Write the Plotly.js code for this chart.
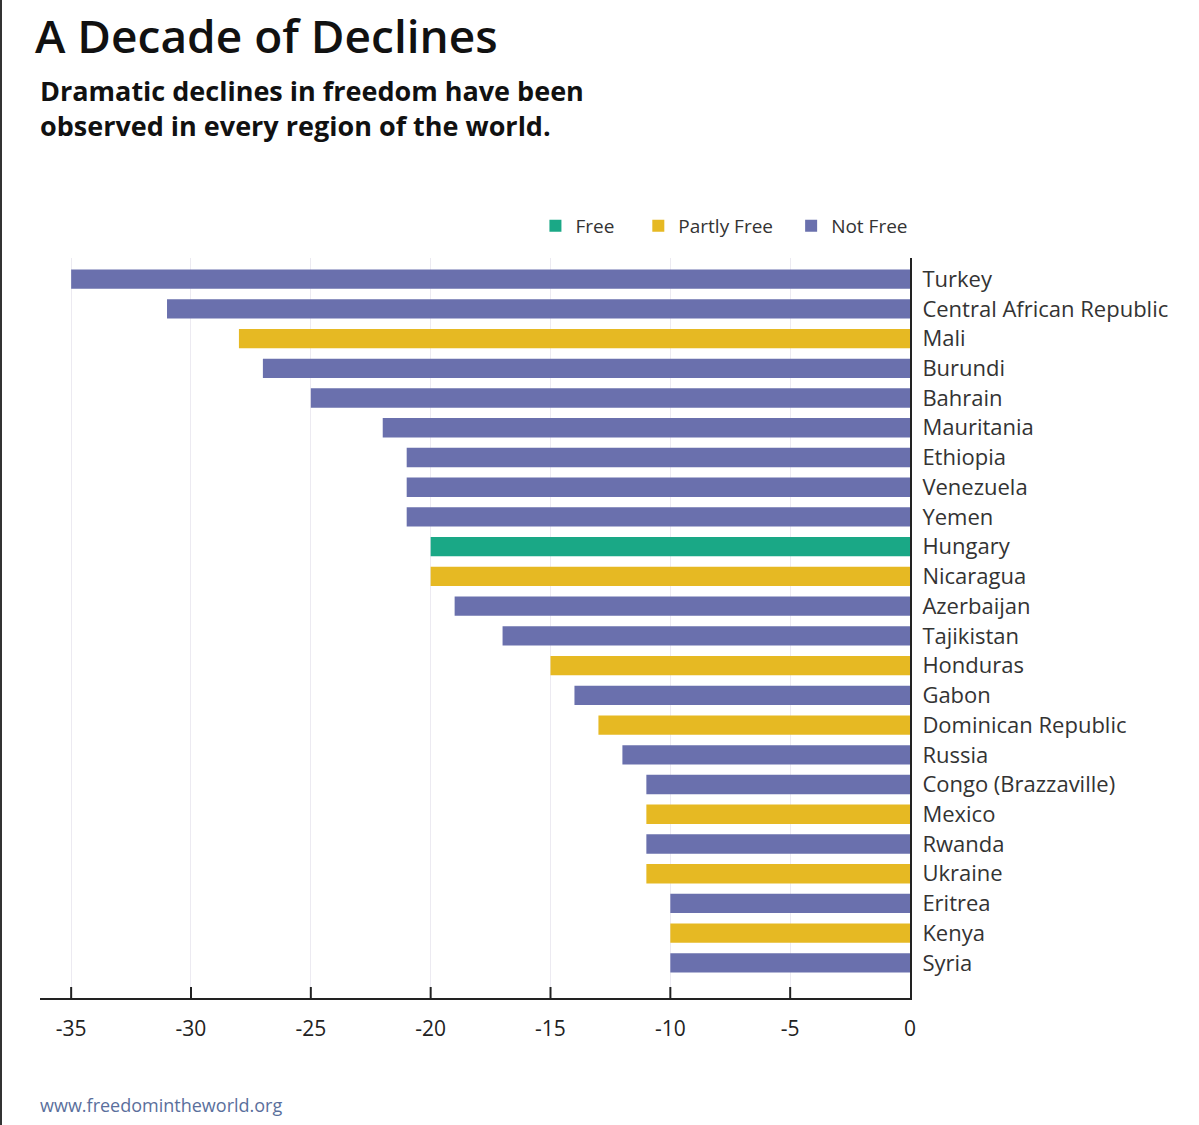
<!DOCTYPE html>
<html>
<head>
<meta charset="utf-8">
<script src="https://cdn.plot.ly/plotly-3.0.1.min.js"></script>
<style>
  html, body { margin: 0; padding: 0; background: #fff; }
  #chart { width: 1199px; height: 1125px; box-sizing: border-box; border-left: 2px solid #333; }
</style>
</head>
<body>
<div id="chart"></div>
<script>
const countries = ["Turkey", "Central African Republic", "Mali", "Burundi", "Bahrain", "Mauritania",
  "Ethiopia", "Venezuela", "Yemen", "Hungary", "Nicaragua", "Azerbaijan", "Tajikistan", "Honduras",
  "Gabon", "Dominican Republic", "Russia", "Congo (Brazzaville)", "Mexico", "Rwanda", "Ukraine",
  "Eritrea", "Kenya", "Syria"];
const declines = [-35, -31, -28, -27, -25, -22, -21, -21, -21, -20, -20, -19, -17, -15,
  -14, -13, -12, -11, -11, -11, -11, -10, -10, -10];
const status = ["Not Free", "Not Free", "Partly Free", "Not Free", "Not Free", "Not Free",
  "Not Free", "Not Free", "Not Free", "Free", "Partly Free", "Not Free", "Not Free", "Partly Free",
  "Not Free", "Partly Free", "Not Free", "Not Free", "Partly Free", "Not Free", "Partly Free",
  "Not Free", "Partly Free", "Not Free"];
const statusNames = ["Free", "Partly Free", "Not Free"];
const statusColors = ["#1aa886", "#e6b923", "#6a70ad"];
const xTicks = [-35, -30, -25, -20, -15, -10, -5, 0];

const FONT = "Open Sans, Lato, sans-serif";
const legendIds = ["legend", "legend2", "legend3"];
const legendLeft = [534, 637, 790];

const traces = statusNames.map((s, k) => {
  const idx = countries.map((c, i) => i).filter(i => status[i] === s);
  return {
    type: "bar",
    orientation: "h",
    name: s,
    legend: legendIds[k],
    x: idx.map(i => declines[i]),
    y: idx.map(i => countries[i]),
    marker: { color: statusColors[k], line: { width: 0 } },
    hoverinfo: "x+y"
  };
});

const px2x = p => (p - 38) / 871;
const px2y = p => (998 - p) / 740;

// upward tick marks on the bottom axis, placed through the x scale
const tickShapes = xTicks.filter(v => v !== 0).map(v => ({
  type: "line", layer: "above",
  xref: "x", yref: "paper",
  x0: v, x1: v, y0: 0, y1: 11 / 740,
  line: { color: "#222", width: 2 }
}));

const layout = {
  width: 1199,
  height: 1125,
  paper_bgcolor: "#fff",
  plot_bgcolor: "#fff",
  margin: { l: 38, r: 291, t: 258, b: 127 },
  barmode: "relative",
  bargap: 0.35,
  font: { family: FONT, color: "#333" },
  shapes: tickShapes,
  annotations: [{
    text: "A Decade of Declines",
    xref: "paper", yref: "paper",
    x: px2x(31), xanchor: "left", align: "left",
    y: px2y(2), yanchor: "top",
    showarrow: false,
    font: { family: FONT, size: 46, color: "#111", weight: 600 }
  }, {
    text: "<b>Dramatic declines in freedom have been<br>observed in every region of the world.</b>",
    xref: "paper", yref: "paper",
    x: px2x(36), xanchor: "left", align: "left",
    y: px2y(70), yanchor: "top",
    showarrow: false,
    font: { family: FONT, size: 27, color: "#111" }
  }, {
    text: "www.freedomintheworld.org",
    xref: "paper", yref: "paper",
    x: px2x(36), xanchor: "left",
    y: px2y(1105), yanchor: "middle",
    showarrow: false,
    font: { family: FONT, size: 18, color: "#5a6f9c" }
  }],
  xaxis: {
    range: [-36.3, 0],
    tickmode: "array",
    tickvals: xTicks,
    ticktext: xTicks.map(String),
    showgrid: true,
    gridcolor: "#eceaf1",
    gridwidth: 1,
    zeroline: false,
    showline: true,
    linecolor: "#222",
    linewidth: 2,
    ticks: "",
    ticklabelstandoff: 11,
    tickfont: { family: FONT, size: 21, color: "#222" },
    fixedrange: true
  },
  yaxis: {
    type: "category",
    categoryorder: "array",
    categoryarray: countries,
    range: [24.18, -0.71],
    side: "right",
    showgrid: false,
    zeroline: false,
    showline: true,
    linecolor: "#222",
    linewidth: 2,
    ticks: "",
    ticklabelstandoff: 6,
    tickfont: { family: FONT, size: 22, color: "#333" },
    fixedrange: true
  },
  showlegend: true
};

legendIds.forEach((id, k) => {
  layout[id] = {
    orientation: "h",
    x: px2x(legendLeft[k]), xanchor: "left",
    y: px2y(226), yanchor: "middle",
    font: { family: FONT, size: 19, color: "#333" },
    bgcolor: "rgba(0,0,0,0)",
    itemclick: false,
    itemdoubleclick: false
  };
});

Plotly.newPlot("chart", traces, layout, { displayModeBar: false });
</script>
</body>
</html>
